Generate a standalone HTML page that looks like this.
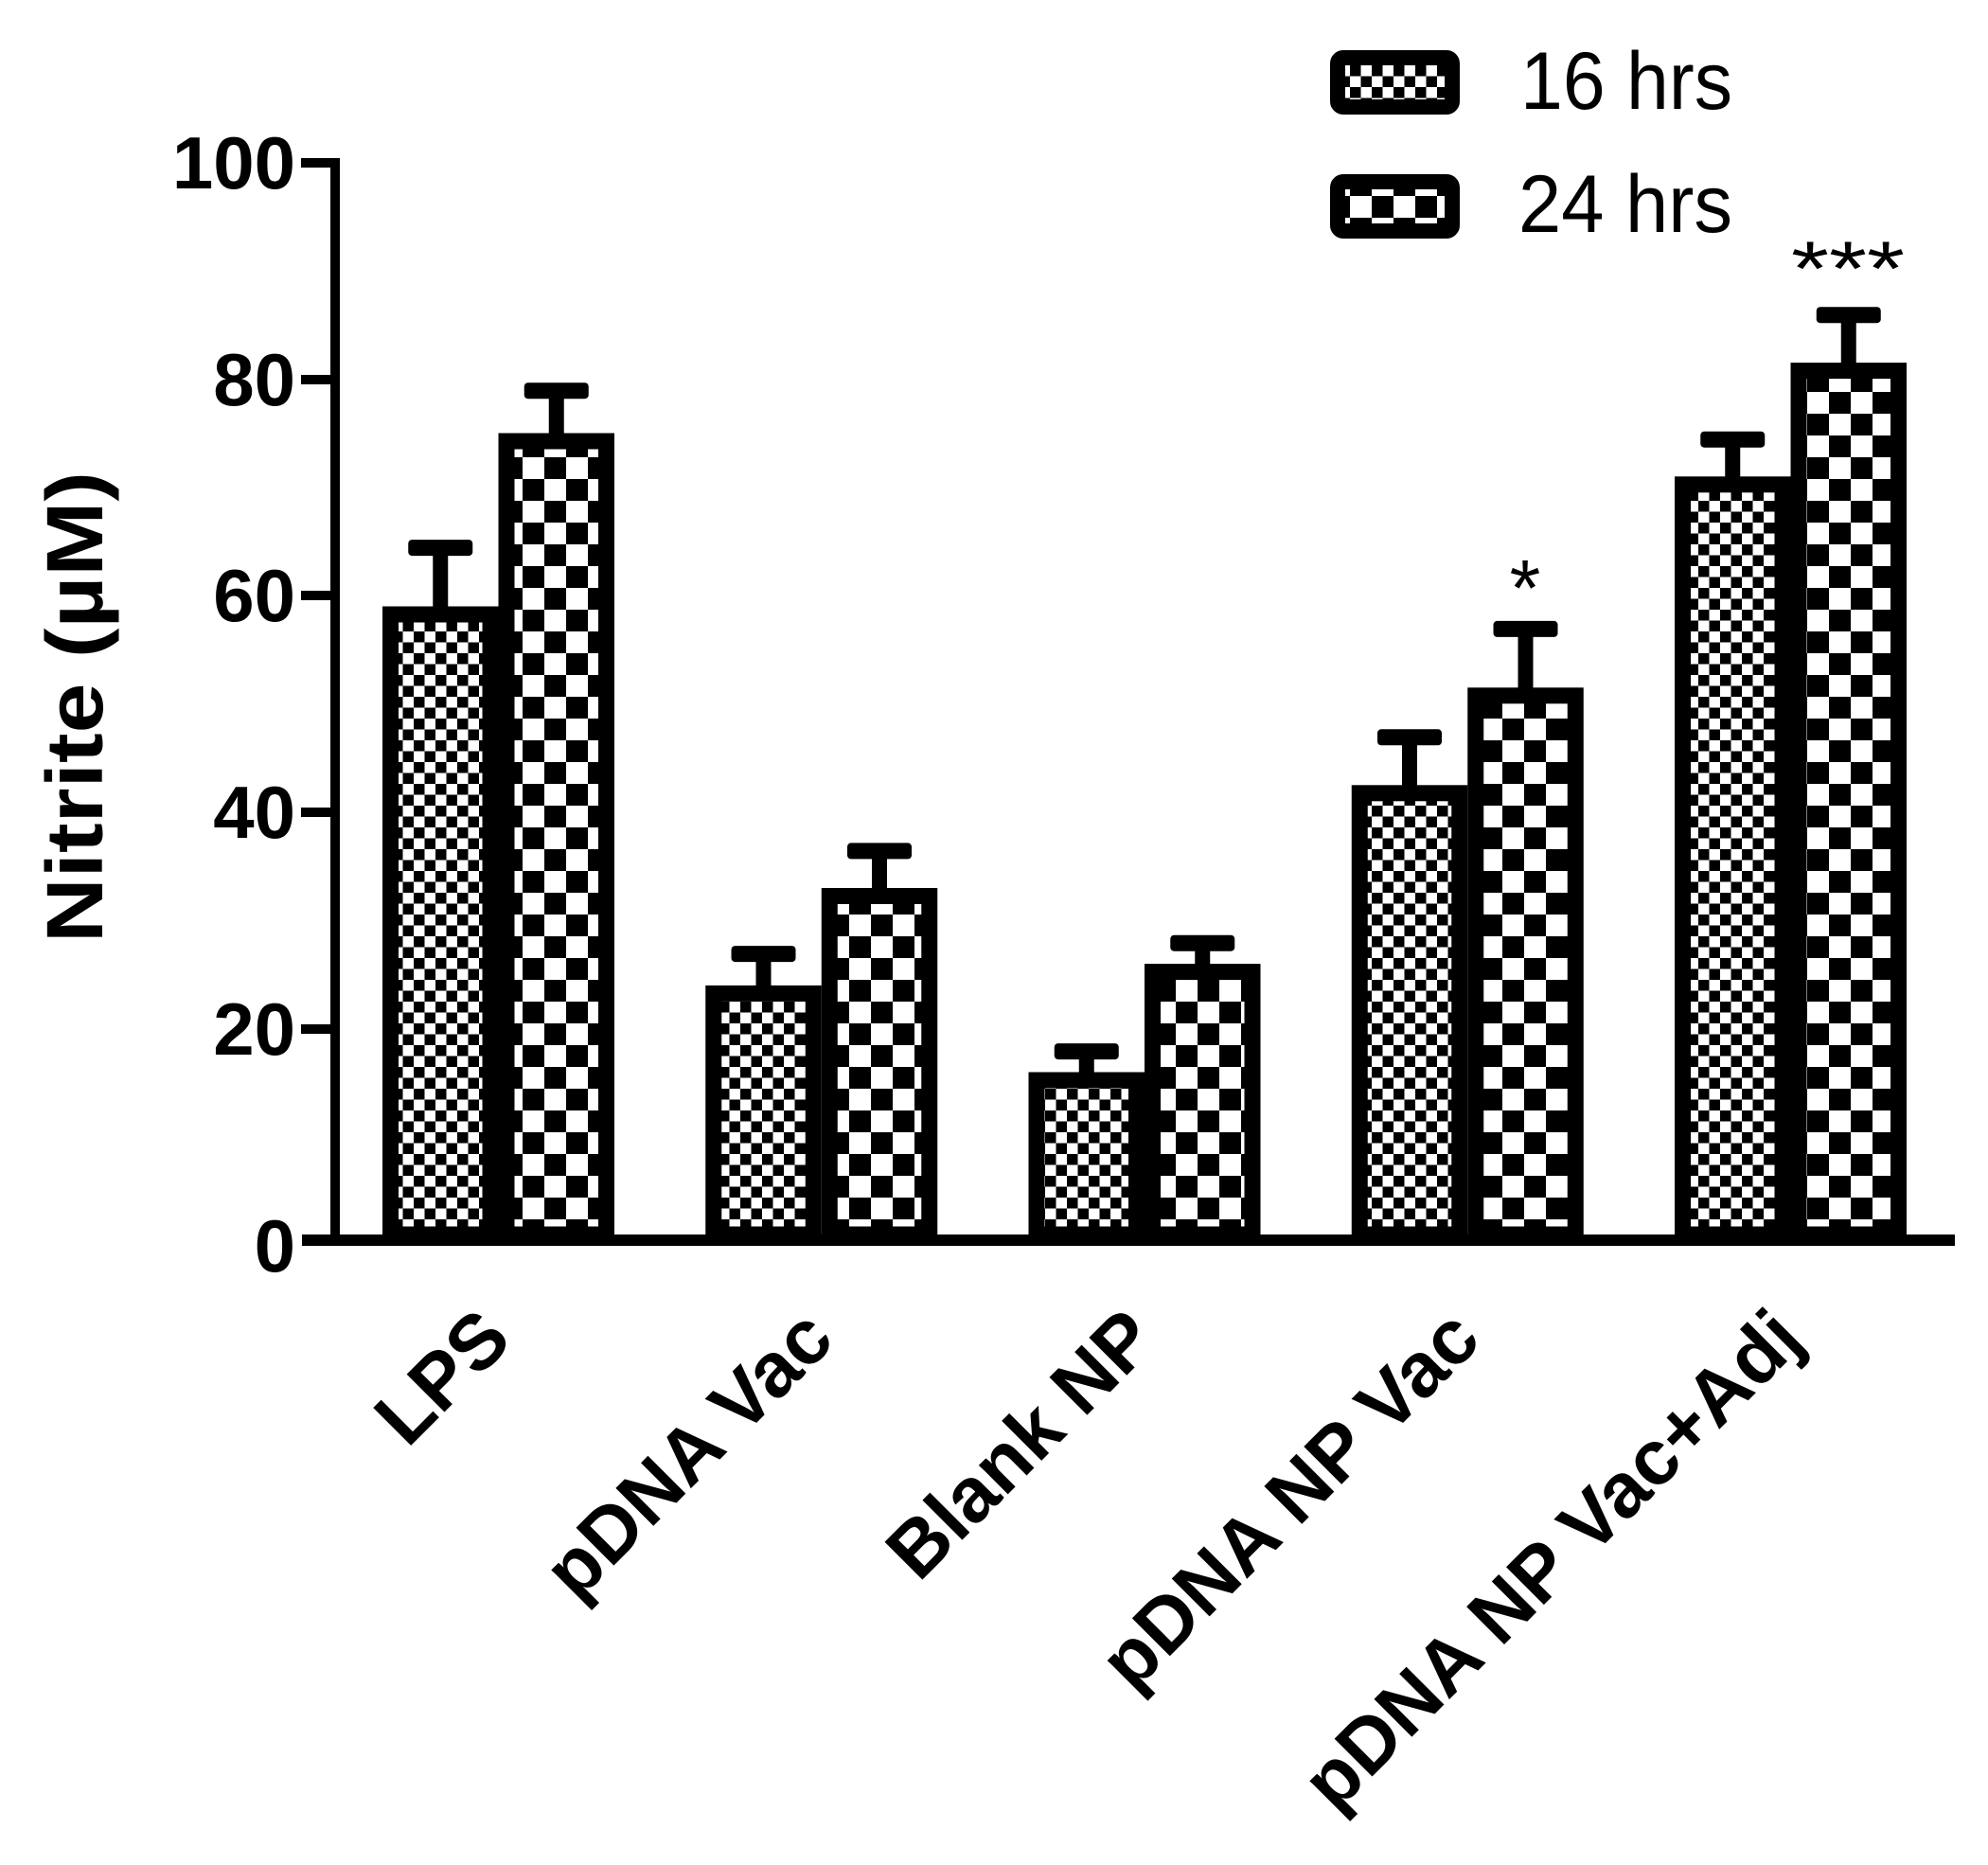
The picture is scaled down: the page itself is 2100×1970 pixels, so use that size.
<!DOCTYPE html>
<html><head><meta charset="utf-8"><style>html,body{margin:0;padding:0;background:#fff}svg{display:block}</style></head>
<body>
<svg width="2100" height="1970" viewBox="0 0 2100 1970" xmlns="http://www.w3.org/2000/svg">
<defs>
<pattern id="p16" width="23" height="23" patternUnits="userSpaceOnUse">
<rect width="23" height="23" fill="#fff"/><rect x="0" y="0" width="11.5" height="11.5" fill="#000"/><rect x="11.5" y="11.5" width="11.5" height="11.5" fill="#000"/>
</pattern>
<pattern id="p24" width="46" height="46" patternUnits="userSpaceOnUse">
<rect width="46" height="46" fill="#fff"/><rect x="0" y="0" width="23" height="23" fill="#000"/><rect x="23" y="23" width="23" height="23" fill="#000"/>
</pattern>
</defs>
<g font-family="Liberation Sans, Arial, sans-serif" font-weight="bold" font-size="78" text-anchor="end" fill="#000">
<text x="312" y="199">100</text>
<text x="312" y="428">80</text>
<text x="312" y="656">60</text>
<text x="312" y="885">40</text>
<text x="312" y="1114">20</text>
<text x="312" y="1343">0</text>
</g>
<g stroke="#000" stroke-width="10">
<line x1="318" y1="172" x2="358" y2="172"/>
<line x1="318" y1="401" x2="358" y2="401"/>
<line x1="318" y1="629" x2="358" y2="629"/>
<line x1="318" y1="858" x2="358" y2="858"/>
<line x1="318" y1="1087" x2="358" y2="1087"/>
<line x1="354" y1="167" x2="354" y2="1316"/>
</g>
<rect x="319" y="1304" width="1746" height="12" fill="#000"/>
<text transform="translate(108,747) rotate(-90)" font-family="Liberation Sans, Arial, sans-serif" font-weight="bold" font-size="84" text-anchor="middle" textLength="498" lengthAdjust="spacingAndGlyphs">Nitrite (µM)</text>

<g fill="#000">
<rect x="457.25" y="578.1" width="16" height="63"/><rect x="431.25" y="570.1" width="68" height="17" rx="4"/>
<rect x="579.75" y="412.2" width="16" height="46"/><rect x="553.75" y="404.2" width="68" height="17" rx="4"/>
<rect x="798.5" y="1007.1" width="16" height="34.3"/><rect x="772.5" y="999.1" width="68" height="17" rx="4"/>
<rect x="921" y="898.4" width="16" height="40.1"/><rect x="895" y="890.4" width="68" height="17" rx="4"/>
<rect x="1139.75" y="1110.1" width="16" height="22.9"/><rect x="1113.75" y="1102.1" width="68" height="17" rx="4"/>
<rect x="1262.25" y="995.7" width="16" height="22.9"/><rect x="1236.25" y="987.7" width="68" height="17" rx="4"/>
<rect x="1481" y="778.3" width="16" height="51.5"/><rect x="1455" y="770.3" width="68" height="17" rx="4"/>
<rect x="1603.5" y="663.9" width="16" height="62.9"/><rect x="1577.5" y="655.9" width="68" height="17" rx="4"/>
<rect x="1822.25" y="463.7" width="16" height="40.1"/><rect x="1796.25" y="455.7" width="68" height="17" rx="4"/>
<rect x="1944.75" y="332.2" width="16" height="51.4"/><rect x="1918.75" y="324.2" width="68" height="17" rx="4"/>
</g>
<g stroke="#000" stroke-width="17">
<rect x="412.5" y="649" width="105.5" height="655" fill="url(#p16)"/>
<rect x="535" y="466" width="105.5" height="838" fill="url(#p24)"/>
<rect x="753.75" y="1049.4" width="105.5" height="254.6" fill="url(#p16)"/>
<rect x="876.25" y="946.5" width="105.5" height="357.5" fill="url(#p24)"/>
<rect x="1095" y="1141" width="105.5" height="163" fill="url(#p16)"/>
<rect x="1217.5" y="1026.6" width="105.5" height="277.4" fill="url(#p24)"/>
<rect x="1436.25" y="837.8" width="105.5" height="466.2" fill="url(#p16)"/>
<rect x="1558.75" y="734.8" width="105.5" height="569.2" fill="url(#p24)"/>
<rect x="1777.5" y="511.8" width="105.5" height="792.2" fill="url(#p16)"/>
<rect x="1900" y="391.6" width="105.5" height="912.4" fill="url(#p24)"/>
</g>

<g font-family="Liberation Sans, Arial, sans-serif" font-weight="bold" font-size="82" text-anchor="end">
<text transform="translate(543,1418) rotate(-45)">LPS</text>
<text transform="translate(884,1418) rotate(-45)">pDNA Vac</text>
<text transform="translate(1225,1418) rotate(-45)">Blank NP</text>
<text transform="translate(1567,1418) rotate(-45)">pDNA NP Vac</text>
<text transform="translate(1908,1418) rotate(-45)">pDNA NP Vac+Adj</text>
</g>
<rect x="1413" y="61" width="121" height="52" rx="6" fill="url(#p16)" stroke="#000" stroke-width="16"/>
<rect x="1413" y="192" width="121" height="52" rx="6" fill="url(#p24)" stroke="#000" stroke-width="16"/>
<g font-family="Liberation Sans, Arial, sans-serif" font-size="86">
<text x="1606" y="115" textLength="224" lengthAdjust="spacingAndGlyphs">16 hrs</text>
<text x="1604" y="245" textLength="226" lengthAdjust="spacingAndGlyphs">24 hrs</text>
<text x="1611" y="650" text-anchor="middle" font-size="84">*</text>
<text x="1952" y="312" text-anchor="middle" font-size="82" textLength="120" lengthAdjust="spacingAndGlyphs">***</text>
</g>
</svg>
</body></html>
